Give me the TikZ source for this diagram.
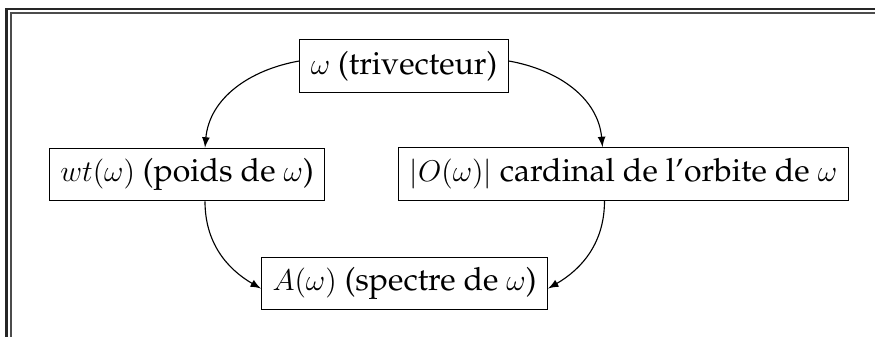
\documentclass[tikz,border=0pt]{standalone}
\usepackage[T1]{fontenc}
\usepackage{palatino}
\usepackage{tikz}
\usetikzlibrary{arrows}

\begin{document}
\begin{tikzpicture}[x=0.4pt, y=-0.4pt,
	boite/.style={draw, line width=0.5pt, font=\fontsize{12.8}{15}\selectfont, minimum height=21pt, inner xsep=4.4pt, inner ysep=3pt},
	fleche/.style={-latex, line width=0.45pt}]
	\useasboundingbox (0,0) rectangle (875,336);
	% cadre double
	\draw [line width=0.8pt, black!85] (6.5,400) -- (6.5,8.5) -- (900,8.5);
	\draw [line width=0.6pt, black!70] (11,400) -- (11,13) -- (900,13);
	% les quatre boites
	\node [boite] (omega) at (404,66) {$\omega$ (trivecteur)};
	\node [boite] (poids) at (187,174.5) {$wt(\omega)$ (poids de $\omega$)};
	\node [boite] (orbite) at (623.5,174) {$|O(\omega)|$ cardinal de l'orbite de $\omega$};
	\node [boite] (spectre) at (404.5,283.5) {$A(\omega)$ (spectre de $\omega$)};
	% les fleches
	\draw [fleche] ([yshift=2pt]omega.west) to[out=190, in=85] ([xshift=7.2pt]poids.north);
	\draw [fleche] ([yshift=2pt]omega.east) to[out=-10, in=95] ([xshift=-8.4pt]orbite.north);
	\draw [fleche] ([xshift=7.2pt]poids.south) to[out=-90, in=150] ([yshift=-2pt]spectre.west);
	\draw [fleche] ([xshift=-7.6pt]orbite.south) to[out=-90, in=30] ([yshift=-2pt]spectre.east);
\end{tikzpicture}
\end{document}
